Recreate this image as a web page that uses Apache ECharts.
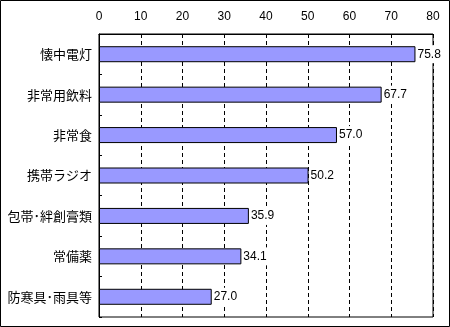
<!DOCTYPE html>
<html><head><meta charset="utf-8">
<script src="https://cdn.jsdelivr.net/npm/echarts@6/dist/echarts.min.js"></script>
<style>html,body{margin:0;padding:0;background:#fff}#c{width:450px;height:327px}</style>
</head><body><div id="c"></div>
<script>
const categories = ['懐中電灯','非常用飲料','非常食','携帯ラジオ','包帯･絆創膏類','常備薬','防寒具･雨具等'];
const values = [75.8, 67.7, 57.0, 50.2, 35.9, 34.1, 27.0];
const xTicks = [0,10,20,30,40,50,60,70,80];

const chart = echarts.init(document.getElementById('c'), null, {renderer:'canvas'});
chart.setOption({
  animation:false,
  backgroundColor:'#fff',
  textStyle:{fontFamily:'"Noto Sans CJK JP", "Noto Sans", sans-serif'},
  graphic:[{type:'rect', shape:{x:0.5,y:0.5,width:449,height:326}, style:{fill:'none',stroke:'#000',lineWidth:1}}],
  grid:{left:99,right:17,top:34,bottom:10,show:true,borderColor:'#000',borderWidth:1,backgroundColor:'#fff'},
  xAxis:{type:'value',position:'top',min:xTicks[0],max:xTicks[xTicks.length-1],interval:10,
    axisLine:{show:true,lineStyle:{color:'#000'}},axisTick:{show:false},
    axisLabel:{color:'#000',fontSize:12,margin:11,fontFamily:'"Liberation Sans", Arial, sans-serif'},
    splitLine:{show:true,lineStyle:{color:'#000',type:[4,3],width:1}}},
  yAxis:{type:'category',inverse:true,data:categories,
    axisLine:{show:true,lineStyle:{color:'#000'}},
    axisTick:{show:true,inside:true,length:3,lineStyle:{color:'#000'}},
    axisLabel:{color:'#000',fontSize:13,margin:7}},
  series:[{type:'bar',data:values,barWidth:16,
    itemStyle:{color:'#9999FF',borderColor:'#000',borderWidth:1},
    label:{show:true,position:'right',distance:1,color:'#000',fontSize:12,
      backgroundColor:'#fff',padding:[3,1,3,1],
      fontFamily:'"Liberation Sans", Arial, sans-serif',
      formatter:p=>p.value.toFixed(1)}}]
});
</script></body></html>
